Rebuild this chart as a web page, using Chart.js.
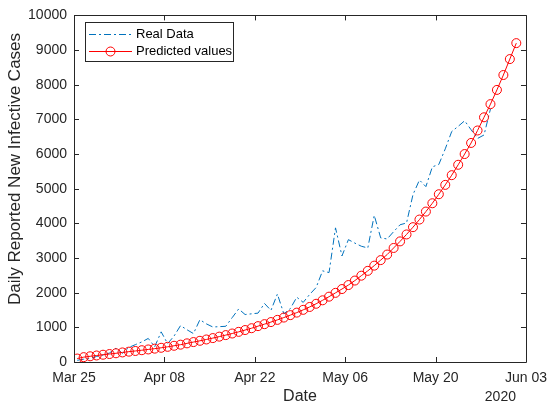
<!DOCTYPE html>
<html>
<head>
<meta charset="utf-8">
<title>Daily Reported New Infective Cases</title>
<script src="https://cdn.jsdelivr.net/npm/chart.js@4.4.0/dist/chart.umd.min.js"></script>
<style>
    html, body { margin: 0; padding: 0; background: #ffffff; }
    #wrap { width: 555px; height: 408px; }
</style>
</head>
<body>
<div id="wrap"><canvas id="casesChart" width="555" height="408"></canvas></div>
<script>
// day 0 = Mar 25 2020, one tick every 14 days
const xTickLabels = ['Mar 25', 'Apr 08', 'Apr 22', 'May 06', 'May 20', 'Jun 03'];
const yearLabel = '2020';
const yTitle = 'Daily Reported New Infective Cases';

// daily reported cases (blue dash-dot), Mar 25 .. May 28
const realData = [
    50, 80, 100, 160, 200, 260, 400, 250, 420, 500,
    580, 680, 440, 870, 530, 750, 1050, 930, 820, 1220,
    1100, 1010, 1020, 1030, 1280, 1530, 1370, 1390, 1410, 1690,
    1490, 1960, 1390, 1540, 1870, 1720, 1950, 2150, 2630, 2580,
    3870, 3060, 3530, 3430, 3340, 3290, 4230, 3580, 3550, 3760,
    3960, 4010, 4830, 5250, 5060, 5630, 5700, 6150, 6650, 6800,
    6960, 6700, 6450, 6550, 7300
];

// model output (red circles), Mar 25 .. Jun 01
const predictedValues = [
    100, 140, 165, 188, 210, 230, 252, 276, 298, 318,
    340, 362, 385, 410, 438, 468, 500, 538, 575, 612,
    650, 690, 732, 776, 822, 870, 922, 975, 1035, 1092,
    1152, 1215, 1282, 1352, 1425, 1505, 1588, 1680, 1780, 1885,
    1995, 2105, 2220, 2350, 2490, 2630, 2780, 2940, 3100, 3290,
    3480, 3680, 3890, 4110, 4340, 4580, 4840, 5110, 5390, 5690,
    6000, 6320, 6680, 7060, 7440, 7850, 8280, 8740, 9200
];

const FONT = "'Liberation Sans', Arial, Helvetica, sans-serif";
const AXIS_COLOR = '#262626';
const BLUE = '#0072BD';
const RED = '#ff0000';
const BLUE_DASH = [7, 3, 2, 3];

// samples sit at midday of each date
const toPoints = (values) => values.map((v, i) => ({ x: i + 0.5, y: v }));

// MATLAB-like box, inward ticks, legend, y label and year label
const matlabAxes = {
    id: 'matlabAxes',
    afterDatasetsDraw(chart) {
        const { ctx, chartArea: area, scales } = chart;
        const tick = 5;
        ctx.save();
        ctx.strokeStyle = AXIS_COLOR;
        ctx.lineWidth = 1;

        ctx.beginPath();
        ctx.rect(Math.round(area.left) + 0.5, Math.round(area.top) + 0.5,
            Math.round(area.right - area.left), Math.round(area.bottom - area.top));
        ctx.stroke();

        ctx.beginPath();
        scales.y.ticks.forEach(t => {
            const y = Math.round(scales.y.getPixelForValue(t.value)) + 0.5;
            ctx.moveTo(area.left, y); ctx.lineTo(area.left + tick, y);
            ctx.moveTo(area.right, y); ctx.lineTo(area.right - tick, y);
        });
        scales.x.ticks.forEach(t => {
            const x = Math.round(scales.x.getPixelForValue(t.value)) + 0.5;
            ctx.moveTo(x, area.bottom); ctx.lineTo(x, area.bottom - tick);
            ctx.moveTo(x, area.top); ctx.lineTo(x, area.top + tick);
        });
        ctx.stroke();

        // year under the last date tick
        ctx.fillStyle = AXIS_COLOR;
        ctx.font = '14px ' + FONT;
        ctx.textAlign = 'right';
        ctx.textBaseline = 'middle';
        ctx.fillText(yearLabel, area.right - 10, 397);

        // rotated y label
        ctx.save();
        ctx.translate(15, 169);
        ctx.rotate(-Math.PI / 2);
        ctx.font = '17px ' + FONT;
        ctx.textAlign = 'center';
        ctx.fillText(yTitle, 0, 0);
        ctx.restore();

        // legend box
        const lx = 85.5, ly = 22.5, lw = 148, lh = 39;
        ctx.fillStyle = '#ffffff';
        ctx.fillRect(lx, ly, lw, lh);
        ctx.strokeRect(lx, ly, lw, lh);

        const rows = chart.data.datasets;
        ctx.font = '13px ' + FONT;
        ctx.textAlign = 'left';
        rows.forEach((ds, i) => {
            const y = 34.5 + i * 17;
            ctx.strokeStyle = ds.borderColor;
            ctx.setLineDash(ds.borderDash || []);
            ctx.beginPath();
            ctx.moveTo(89, y); ctx.lineTo(132, y);
            ctx.stroke();
            ctx.setLineDash([]);
            if (ds.pointRadius > 0) {
                ctx.beginPath();
                ctx.arc(110.5, y, ds.pointRadius, 0, Math.PI * 2);
                ctx.stroke();
            }
            ctx.fillStyle = '#000000';
            ctx.fillText(ds.label, 136, y);
        });
        ctx.restore();
    }
};

const ctx = document.getElementById('casesChart');
new Chart(ctx, {
    type: 'line',
    data: {
        datasets: [
            {
                label: 'Real Data',
                data: toPoints(realData),
                borderColor: BLUE,
                borderWidth: 1,
                borderDash: BLUE_DASH,
                pointRadius: 0,
                fill: false,
                tension: 0,
                order: 2
            },
            {
                label: 'Predicted values',
                data: toPoints(predictedValues),
                borderColor: RED,
                borderWidth: 1,
                pointRadius: 4.5,
                pointStyle: 'circle',
                pointBorderColor: RED,
                pointBackgroundColor: 'rgba(0,0,0,0)',
                pointBorderWidth: 1,
                fill: false,
                tension: 0,
                order: 1
            }
        ]
    },
    options: {
        responsive: false,
        animation: false,
        layout: { padding: { left: 0, right: 24, top: 12, bottom: 0 } },
        plugins: {
            legend: { display: false },
            tooltip: { enabled: false }
        },
        scales: {
            x: {
                type: 'linear',
                min: 0,
                max: 70,
                grid: { display: false, drawTicks: false },
                border: { display: false },
                ticks: {
                    stepSize: 14,
                    maxRotation: 0,
                    padding: 8,
                    color: AXIS_COLOR,
                    font: { family: FONT, size: 14 },
                    callback: (v) => xTickLabels[Math.round(v / 14)]
                },
                title: {
                    display: true,
                    text: 'Date',
                    color: AXIS_COLOR,
                    font: { family: FONT, size: 16 },
                    padding: { top: 0, bottom: 2 }
                },
                afterFit: (scale) => { scale.height = 46; }
            },
            y: {
                min: 0,
                max: 10000,
                grid: { display: false, drawTicks: false },
                border: { display: false },
                ticks: {
                    stepSize: 1000,
                    padding: 7,
                    color: AXIS_COLOR,
                    font: { family: FONT, size: 14 },
                    callback: (v) => String(v)
                },
                afterFit: (scale) => { scale.width = 74; }
            }
        }
    },
    plugins: [matlabAxes]
});
</script>
</body>
</html>
